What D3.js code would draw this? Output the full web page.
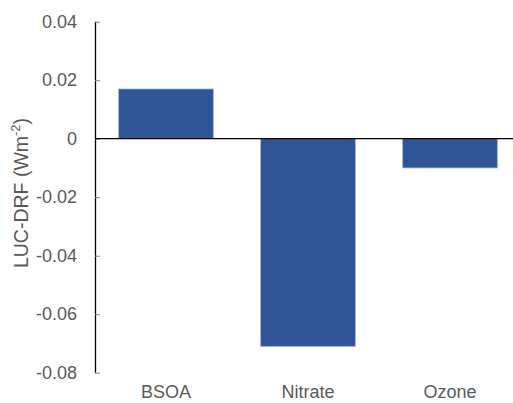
<!DOCTYPE html>
<html><head><meta charset="utf-8">
<script src="https://cdn.jsdelivr.net/npm/d3@7"></script>
<style>body{margin:0;background:#fff}svg{display:block}</style>
</head><body>
<script>
const categories = ["BSOA", "Nitrate", "Ozone"];
const values = [0.017, -0.071, -0.010];
const yTicks = [0.04, 0.02, 0, -0.02, -0.04, -0.06, -0.08];
const yTickLabels = ["0.04", "0.02", "0", "-0.02", "-0.04", "-0.06", "-0.08"];

const W = 513, H = 403;
const svg = d3.select("body").append("svg").attr("width", W).attr("height", H);
const x0 = 95, x1 = 521, yTop = 21.7, yBot = 372.7;
const x = d3.scaleBand().domain(categories).range([x0, x1]).paddingInner(0.333).paddingOuter(0.1665);
const y = d3.scaleLinear().domain([-0.08, 0.04]).range([yBot, yTop]);

// bars
svg.selectAll("rect.bar").data(values).enter().append("rect")
  .attr("x", (d, i) => x(categories[i]))
  .attr("width", x.bandwidth())
  .attr("y", d => y(Math.max(0, d)))
  .attr("height", d => Math.abs(y(d) - y(0)))
  .attr("fill", "#2F5597")
  .attr("stroke", "#9DB3DA").attr("stroke-width", 0.8);

// y axis
const yAxis = d3.axisLeft(y).tickValues(yTicks).tickSize(-5).tickPadding(18)
  .tickFormat((d, i) => yTickLabels[i]);
const gy = svg.append("g").attr("transform", `translate(${x0},0)`).call(yAxis);
gy.select(".domain").attr("stroke", "#000").attr("stroke-width", 1.3).attr("d", `M0.5,${yTop}V${yBot}`);
gy.selectAll(".tick line").attr("stroke", "#808080").attr("stroke-width", 1);
gy.selectAll(".tick text").attr("fill", "#595959").attr("font-family", "Liberation Sans, Arial, sans-serif").attr("font-size", 18);

// zero line
svg.append("line").attr("x1", x0).attr("x2", x1).attr("y1", y(0)).attr("y2", y(0))
  .attr("stroke", "#000").attr("stroke-width", 1.3);

// x labels
svg.selectAll("text.xl").data(categories).enter().append("text")
  .attr("x", d => x(d) + x.bandwidth() / 2).attr("y", 398)
  .attr("text-anchor", "middle").attr("fill", "#595959")
  .attr("font-family", "Liberation Sans, Arial, sans-serif").attr("font-size", 18)
  .text(d => d);

// y title
const t = svg.append("text").attr("transform", "translate(28,193) rotate(-90)")
  .attr("text-anchor", "middle").attr("fill", "#595959")
  .attr("font-family", "Liberation Sans, Arial, sans-serif").attr("font-size", 19.5);
t.append("tspan").text("LUC-DRF (Wm");
t.append("tspan").attr("font-size", 13).attr("dy", -8).text("-2");
t.append("tspan").attr("dy", 8).text(")");
</script>
</body></html>
